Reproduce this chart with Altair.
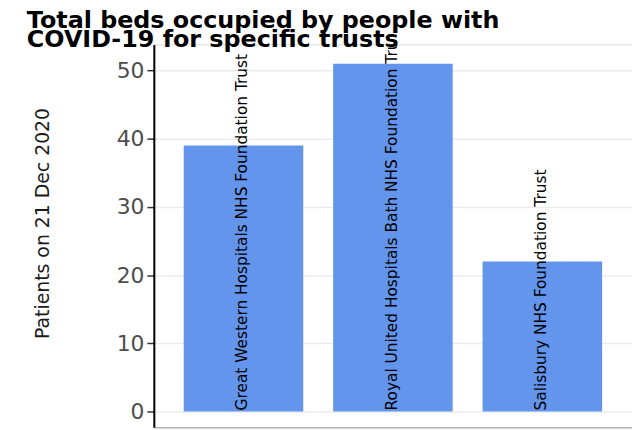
import altair as alt
import pandas as pd

trusts = [
    "Great Western Hospitals NHS Foundation Trust",
    "Royal United Hospitals Bath NHS Foundation Trust",
    "Salisbury NHS Foundation Trust",
]
patients = [39, 51, 22]
y_ticks = [0, 10, 20, 30, 40, 50]

df = pd.DataFrame({"trust": trusts, "patients": patients, "zero": [0] * len(trusts)})

FONT = "DejaVu Sans"

x = alt.X("trust:N", sort=trusts,
          scale=alt.Scale(paddingInner=0.2, paddingOuter=0.2),
          axis=alt.Axis(title=None, labels=False, ticks=False, domain=True,
                        domainColor="#999999", domainWidth=1, grid=False))

y_scale = alt.Scale(domain=[-2.33, 53.85], nice=False, zero=False)

bars = alt.Chart(df).mark_bar(color="#6495ED").encode(
    x=x,
    y=alt.Y("patients:Q", scale=y_scale,
            axis=alt.Axis(title="Patients on 21 Dec 2020", values=y_ticks,
                          titleFont=FONT, titleFontSize=19, titleFontWeight="normal",
                          titleColor="#1a1a1a", titlePadding=64, titleY=180,
                          labelFont=FONT, labelFontSize=22, labelColor="#4d4d4d",
                          labelPadding=3,
                          tickColor="#333333", tickSize=7, tickWidth=1.5,
                          domainColor="#000000", domainWidth=2,
                          grid=True, gridColor="#ebebeb", gridWidth=1.5)),
    y2=alt.Y2("zero:Q"),
)

labels = alt.Chart(df).mark_text(
    angle=270, align="left", baseline="middle", font=FONT, fontSize=15.5,
    color="#000000", dx=1, dy=-1, clip=True,
).encode(
    x=alt.X("trust:N", sort=trusts),
    y=alt.Y("zero:Q", scale=y_scale),
    text="trust:N",
)

chart = alt.layer(bars, labels).properties(
    width=482, height=386,
    title=alt.TitleParams(
        text=["Total beds occupied by people with", "COVID-19 for specific trusts"],
        font=FONT, fontSize=24, fontWeight="bold", color="#000000",
        anchor="start", frame="group", dx=-128, offset=-8, lineHeight=20,
    ),
    autosize=alt.AutoSizeParams(type="none"),
    padding={"left": 147, "top": 35, "right": 0, "bottom": 0},
).configure_view(stroke=None).configure(background="white")

chart.save("out.html", embed_options={"renderer": "svg", "actions": False})
